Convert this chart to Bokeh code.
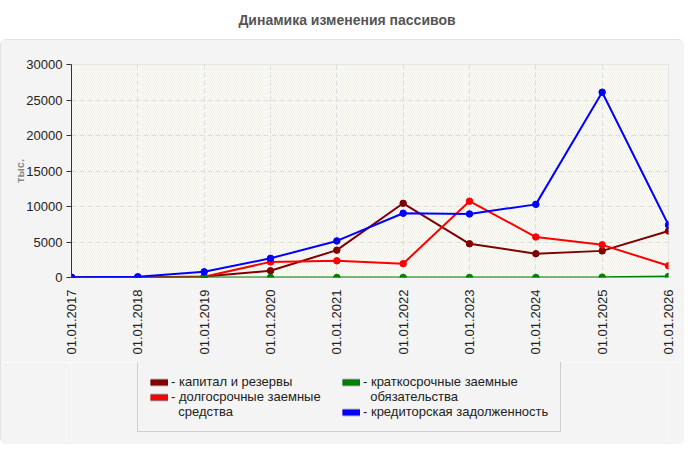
from bokeh.plotting import figure
from bokeh.layouts import column
from bokeh.models import Range1d, FixedTicker, BoxAnnotation, Legend, LegendItem, Div
from bokeh.embed import file_html
from bokeh.resources import INLINE

dates = ["01.01.2017", "01.01.2018", "01.01.2019", "01.01.2020", "01.01.2021",
         "01.01.2022", "01.01.2023", "01.01.2024", "01.01.2025", "01.01.2026"]
kapital = [0, 0, 150, 950, 3850, 10450, 4750, 3350, 3750, 6550]
dolgo = [0, 0, 100, 2200, 2350, 1950, 10750, 5700, 4600, 1650]
kratko = [0, 0, 0, 0, 0, 0, 0, 0, 50, 150]
kredit = [50, 100, 800, 2700, 5150, 9050, 8950, 10300, 26100, 7400]
y_ticks = [0, 5000, 10000, 15000, 20000, 25000, 30000]

names = ["капитал и резервы", "долгосрочные заемные\nсредства",
         "краткосрочные заемные\nобязательства", "кредиторская задолженность"]
colors = ["#800000", "#ff0000", "#008000", "#0000ff"]
values = [kapital, dolgo, kratko, kredit]

FONT = "Liberation Sans"
PANEL = "#f4f4f4"
xs = list(range(len(dates)))

title = Div(text="Динамика изменения пассивов", width=684, height=29,
            styles={"text-align": "center", "font-family": FONT, "font-size": "14px",
                    "font-weight": "bold", "color": "#555555", "line-height": "30px"})

p = figure(width=684, height=323, output_backend="svg", toolbar_location=None,
           x_range=Range1d(0, len(dates) - 1), y_range=Range1d(0, 30000),
           min_border_left=71, min_border_right=16, min_border_top=25, min_border_bottom=85,
           background_fill_color="#fdfdf6", border_fill_color=PANEL,
           outline_line_color="#dddddd")

# hatched plot area
p.add_layout(BoxAnnotation(fill_color="#fdfdf6", fill_alpha=1, line_color=None,
                           hatch_pattern="/", hatch_color="#e4e4e4", hatch_scale=4,
                           hatch_weight=0.6, level="image"))

for vals, col in zip(values, colors):
    p.line(xs, vals, line_color=col, line_width=2)
    p.scatter(xs, vals, size=6.5, fill_color=col, line_color=col)

# axes
p.xaxis.ticker = FixedTicker(ticks=xs)
p.xaxis.major_label_overrides = {i: d for i, d in enumerate(dates)}
p.xaxis.major_label_orientation = 3.14159265 / 2
p.xaxis.axis_line_color = None
p.xaxis.major_tick_line_color = None
p.xaxis.minor_tick_line_color = None
p.xaxis.major_label_standoff = 6

p.yaxis.ticker = FixedTicker(ticks=y_ticks)
p.yaxis.axis_line_color = "#333333"
p.yaxis.major_tick_line_color = "#333333"
p.yaxis.major_tick_out = 5
p.yaxis.major_tick_in = 0
p.yaxis.minor_tick_line_color = None
p.yaxis.major_label_standoff = 4
p.yaxis.axis_label = "тыс."
p.yaxis.axis_label_text_font = FONT
p.yaxis.axis_label_text_font_size = "11px"
p.yaxis.axis_label_text_font_style = "bold"
p.yaxis.axis_label_text_color = "#888888"
p.yaxis.axis_label_standoff = -3

for ax in (p.xaxis, p.yaxis):
    ax.major_label_text_font = FONT
    ax.major_label_text_font_size = "13px"
    ax.major_label_text_color = "#222222"

for g in (p.xgrid, p.ygrid):
    g.grid_line_color = "#dddddd"
    g.grid_line_dash = "5 3"

# legend lives in its own small figure under the chart; the proxy lines
# fall outside its (empty) range so only their legend swatches show
q = figure(width=684, height=82, output_backend="svg", toolbar_location=None,
           x_range=Range1d(0, 1), y_range=Range1d(-2, -1),
           x_axis_type=None, y_axis_type=None, min_border=0,
           background_fill_color=PANEL, border_fill_color=PANEL, outline_line_color=None)
q.grid.visible = False

items = []
for name, col, vals in zip(names, colors, values):
    edge = q.line(xs, vals, line_color="#8a8a8a", line_width=7.5)
    swatch = q.line(xs, vals, line_color=col, line_width=5.5)
    lines = name.split("\n")
    items.append(LegendItem(label="- " + lines[0], renderers=[edge, swatch]))
    for extra in lines[1:]:
        blank = q.line(xs, vals, line_alpha=0)
        items.append(LegendItem(label="\u00a0\u00a0" + extra, renderers=[blank]))

legend = Legend(items=items, orientation="vertical", nrows=3,
                location=(66, 12), padding=12, margin=0, spacing=0,
                glyph_width=18, glyph_height=14, label_height=14, label_width=171,
                label_standoff=3, label_text_font=FONT, label_text_font_size="13px",
                label_text_line_height=1.0, label_text_color="#222222",
                border_line_color="#aaaaaa", background_fill_color=PANEL,
                background_fill_alpha=1)
q.add_layout(legend)

panel = column(p, q, styles={"outline": "1px solid #dddddd", "outline-offset": "-1px",
                             "border-radius": "6px", "overflow": "hidden"})
open("out.html", "w").write(file_html(column(title, panel), INLINE))
